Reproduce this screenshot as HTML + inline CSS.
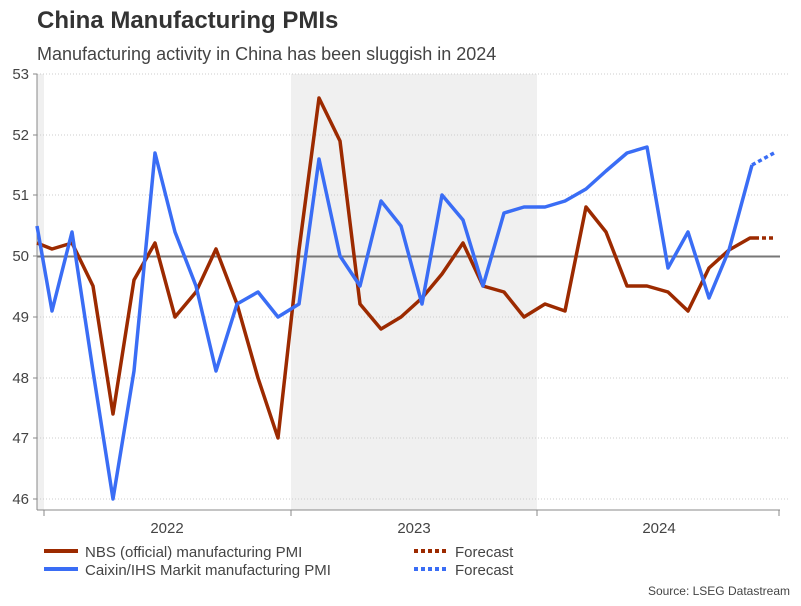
<!DOCTYPE html><html><head><style>body{margin:0;background:#fff;width:801px;height:601px;overflow:hidden;font-family:"Liberation Sans",sans-serif}</style></head><body>
<svg width="801" height="601" xmlns="http://www.w3.org/2000/svg" font-family="Liberation Sans, sans-serif">
<text x="37" y="28" font-size="24" font-weight="bold" fill="#333">China Manufacturing PMIs</text>
<text x="37" y="60" font-size="18" fill="#444">Manufacturing activity in China has been sluggish in 2024</text>
<rect x="37" y="74" width="7" height="436" fill="#f0f0f0"/>
<rect x="291" y="74" width="246" height="436" fill="#f0f0f0"/>
<g stroke="#ccc" stroke-dasharray="1,2" stroke-width="1">
<line x1="37" x2="790" y1="74" y2="74"/><line x1="37" x2="790" y1="135" y2="135"/><line x1="37" x2="790" y1="195" y2="195"/>
<line x1="37" x2="790" y1="317" y2="317"/><line x1="37" x2="790" y1="378" y2="378"/><line x1="37" x2="790" y1="438" y2="438"/><line x1="37" x2="790" y1="499" y2="499"/>
</g>
<line x1="37" x2="780" y1="256.5" y2="256.5" stroke="#777" stroke-width="2"/>
<g font-size="15" fill="#444" text-anchor="end">
<text x="29" y="79">53</text><text x="29" y="140">52</text><text x="29" y="200">51</text><text x="29" y="261">50</text><text x="29" y="322">49</text><text x="29" y="383">48</text><text x="29" y="443">47</text><text x="29" y="504">46</text></g>
<g stroke="#888" stroke-width="1"><line x1="37" x2="37" y1="74" y2="510"/><line x1="37" x2="780" y1="510" y2="510"/>
<line x1="33" x2="37" y1="74" y2="74"/><line x1="33" x2="37" y1="135" y2="135"/><line x1="33" x2="37" y1="195" y2="195"/><line x1="33" x2="37" y1="256" y2="256"/><line x1="33" x2="37" y1="317" y2="317"/><line x1="33" x2="37" y1="378" y2="378"/><line x1="33" x2="37" y1="438" y2="438"/><line x1="33" x2="37" y1="499" y2="499"/>
<line x1="44" x2="44" y1="510" y2="516"/><line x1="291" x2="291" y1="510" y2="516"/><line x1="537" x2="537" y1="510" y2="516"/><line x1="779" x2="779" y1="510" y2="516"/></g>
<g font-size="15" fill="#444" text-anchor="middle"><text x="167" y="533">2022</text><text x="414" y="533">2023</text><text x="659" y="533">2024</text></g>
<polyline fill="none" stroke="#9c2a00" stroke-width="3.5" stroke-linejoin="round" points="37,243 52,249 72,243 93,286 113,414 134,280 155,243 175,317 196,292 216,249 237,304 258,378 278,438 299,250 319,98 340,141 360,304 381,329 401,317 422,298 442,274 463,243 483,286 504,292 524,317 545,304 565,311 586,207 606,232 627,286 647,286 668,292 688,311 709,268 729,250 750,238 755,238"/>
<line x1="755" x2="775" y1="238" y2="238" stroke="#9c2a00" stroke-width="3.5" stroke-dasharray="4,3"/>
<polyline fill="none" stroke="#3a6df5" stroke-width="3.5" stroke-linejoin="round" points="37,226 52,311 72,232 93,371 113,499 134,371 155,153 175,232 196,286 216,371 237,304 258,292 278,317 299,304 319,159 340,256 360,286 381,201 401,226 422,304 442,195 463,220 483,286 504,213 524,207 545,207 565,201 586,189 606,171 627,153 647,147 668,268 688,232 709,298 729,250 752,165"/>
<line x1="752" x2="774" y1="165" y2="153" stroke="#3a6df5" stroke-width="3.5" stroke-dasharray="4,3"/>
<line x1="44" x2="78" y1="551" y2="551" stroke="#9c2a00" stroke-width="4"/>
<line x1="44" x2="78" y1="569" y2="569" stroke="#3a6df5" stroke-width="4"/>
<text x="85" y="557" font-size="15" fill="#444">NBS (official) manufacturing PMI</text>
<text x="85" y="575" font-size="15" fill="#444">Caixin/IHS Markit manufacturing PMI</text>
<line x1="414" x2="448" y1="551" y2="551" stroke="#9c2a00" stroke-width="4" stroke-dasharray="4,3"/>
<line x1="414" x2="448" y1="569" y2="569" stroke="#3a6df5" stroke-width="4" stroke-dasharray="4,3"/>
<text x="455" y="557" font-size="15" fill="#444">Forecast</text>
<text x="455" y="575" font-size="15" fill="#444">Forecast</text>
<text x="790" y="595" font-size="12" fill="#444" text-anchor="end">Source: LSEG Datastream</text>
</svg></body></html>
